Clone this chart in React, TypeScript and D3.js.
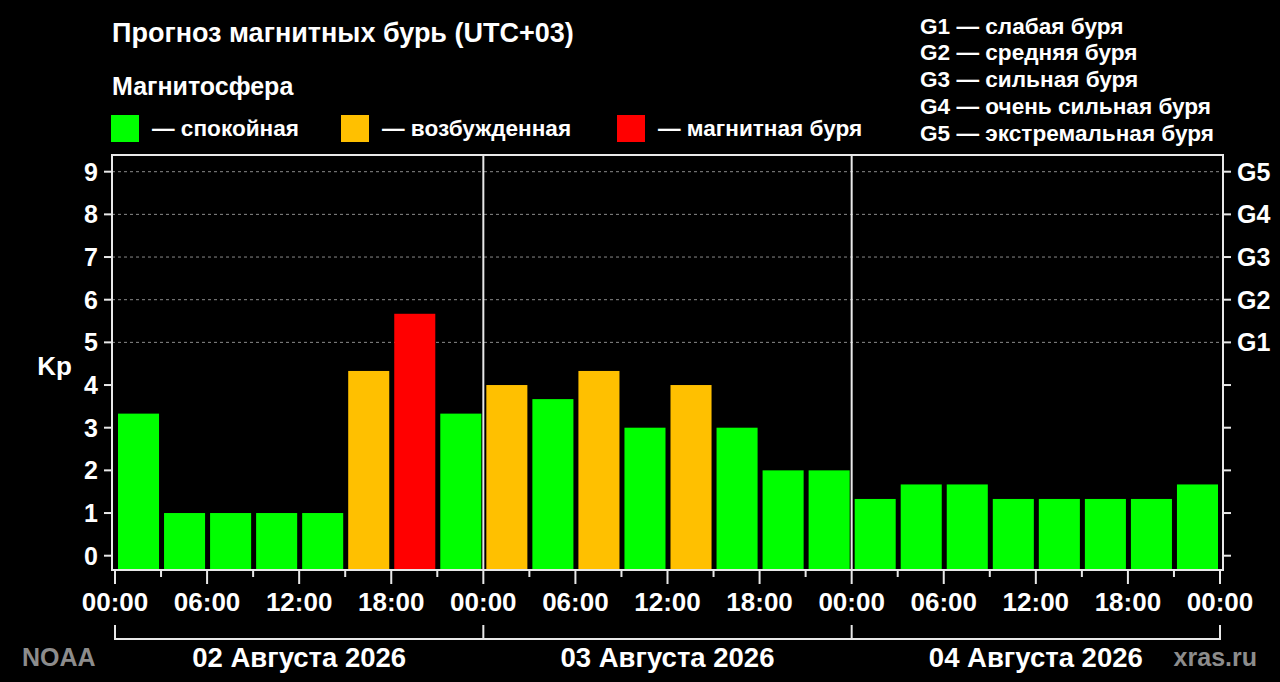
import React from "react";
import * as d3 from "d3";

const days = ["02 Августа 2026", "03 Августа 2026", "04 Августа 2026"];
const kpValues = [
  3.33, 1, 1, 1, 1, 4.33, 5.67, 3.33,
  4, 3.67, 4.33, 3, 4, 3, 2, 2,
  1.33, 1.67, 1.67, 1.33, 1.33, 1.33, 1.33, 1.67,
];
const yTicks = [0, 1, 2, 3, 4, 5, 6, 7, 8, 9];
const gridTicks = [5, 6, 7, 8, 9];
const gLabels = ["G1", "G2", "G3", "G4", "G5"];
const gLegend = [
  "G1 — слабая буря",
  "G2 — средняя буря",
  "G3 — сильная буря",
  "G4 — очень сильная буря",
  "G5 — экстремальная буря",
];
const legendItems = [
  { label: "— спокойная", color: "#00ff00" },
  { label: "— возбужденная", color: "#ffc000" },
  { label: "— магнитная буря", color: "#ff0000" },
];
const hoursPerBar = 3;

const FONT = "'Liberation Sans', Arial, sans-serif";

export default function App() {
  const W = 1280,
    H = 682;
  const frameL = 112,
    frameR = 1223,
    frameT = 155,
    frameB = 570;
  const x = d3.scaleLinear().domain([0, 72]).range([115, 1220]);
  const y = d3.scaleLinear().domain([0, 9]).range([555.7, 171.7]);
  const color = (v: number) => (v >= 5 ? "#ff0000" : v >= 4 ? "#ffc000" : "#00ff00");
  const slot = x(hoursPerBar) - x(0);
  const hourTicks = d3.range(0, 73, 3);
  const hourLabels = d3.range(0, 73, 6);
  const daySeps = d3.range(0, 73, 24);
  const legendX = [111, 341, 617];

  React.useEffect(() => {
    document.body.style.background = "#000";
    document.body.style.margin = "0";
  }, []);

  return (
    <svg
      width={W}
      height={H}
      style={{ position: "fixed", left: 0, top: 0, background: "#000", fontFamily: FONT }}
    >
      <rect width={W} height={H} fill="#000" />
      {/* Title */}
      <text x={112} y={33} fill="#fff" fontSize={27} fontWeight="bold" dominantBaseline="central">
        Прогноз магнитных бурь (UTC+03)
      </text>
      <text x={112} y={86} fill="#fff" fontSize={25} fontWeight="bold" dominantBaseline="central">
        Магнитосфера
      </text>
      {legendItems.map((it, i) => (
        <g key={i}>
          <rect x={legendX[i]} y={115} width={28} height={27} fill={it.color} />
          <text
            x={legendX[i] + 41}
            y={128}
            fill="#fff"
            fontSize={22.6}
            fontWeight="bold"
            dominantBaseline="central"
          >
            {it.label}
          </text>
        </g>
      ))}
      {gLegend.map((t, i) => (
        <text
          key={t}
          x={920}
          y={26 + i * 26.8}
          fill="#fff"
          fontSize={22.6}
          fontWeight="bold"
          dominantBaseline="central"
        >
          {t}
        </text>
      ))}

      {/* grid */}
      {gridTicks.map((t) => (
        <line
          key={t}
          x1={frameL}
          x2={frameR}
          y1={y(t)}
          y2={y(t)}
          stroke="#8a8a8a"
          strokeWidth={1}
          strokeDasharray="3,3"
        />
      ))}

      {/* bars */}
      {kpValues.map((v, i) => (
        <rect
          key={i}
          x={x(i * hoursPerBar) + 3}
          width={slot - 5}
          y={y(v)}
          height={frameB - y(v)}
          fill={color(v)}
        />
      ))}

      {/* frame */}
      <rect
        x={frameL}
        y={frameT}
        width={frameR - frameL}
        height={frameB - frameT}
        fill="none"
        stroke="#e8e8e8"
        strokeWidth={2}
      />
      {daySeps.slice(1, 3).map((h) => (
        <line key={h} x1={x(h)} x2={x(h)} y1={frameT} y2={frameB} stroke="#e8e8e8" strokeWidth={2} />
      ))}

      {/* y axes */}
      {yTicks.map((t) => (
        <g key={t}>
          <line x1={frameL - 8} x2={frameL} y1={y(t)} y2={y(t)} stroke="#e8e8e8" strokeWidth={2} />
          <line x1={frameR} x2={frameR + 8} y1={y(t)} y2={y(t)} stroke="#e8e8e8" strokeWidth={2} />
          <text
            x={98}
            y={y(t)}
            fill="#fff"
            fontSize={25}
            fontWeight="bold"
            textAnchor="end"
            dominantBaseline="central"
          >
            {t}
          </text>
        </g>
      ))}
      {gLabels.map((g, i) => (
        <text
          key={g}
          x={1237}
          y={y(5 + i)}
          fill="#fff"
          fontSize={25}
          fontWeight="bold"
          dominantBaseline="central"
        >
          {g}
        </text>
      ))}
      <text x={54.5} y={366} fill="#fff" fontSize={26} fontWeight="bold" textAnchor="middle" dominantBaseline="central">
        Kp
      </text>

      {/* x axis */}
      {hourTicks.map((h) => (
        <line
          key={h}
          x1={x(h)}
          x2={x(h)}
          y1={frameB}
          y2={h % 6 === 0 ? 584 : 577}
          stroke="#e8e8e8"
          strokeWidth={2}
        />
      ))}
      {hourLabels.map((h) => (
        <text
          key={h}
          x={x(h)}
          y={602}
          fill="#fff"
          fontSize={26}
          fontWeight="bold"
          textAnchor="middle"
          dominantBaseline="central"
        >
          {d3.format("02")(h % 24) + ":00"}
        </text>
      ))}

      {/* day brackets */}
      <line x1={x(0)} x2={x(72)} y1={639} y2={639} stroke="#e8e8e8" strokeWidth={2} />
      {daySeps.map((h) => (
        <line key={h} x1={x(h)} x2={x(h)} y1={625} y2={640} stroke="#e8e8e8" strokeWidth={2} />
      ))}
      {days.map((d, i) => (
        <text
          key={d}
          x={(x(i * 24) + x((i + 1) * 24)) / 2}
          y={657}
          fill="#fff"
          fontSize={27.5}
          fontWeight="bold"
          textAnchor="middle"
          dominantBaseline="central"
        >
          {d}
        </text>
      ))}
      <text x={22} y={657} fill="#8c8c8c" fontSize={25} fontWeight="bold" dominantBaseline="central">
        NOAA
      </text>
      <text x={1257} y={657} fill="#8c8c8c" fontSize={25} fontWeight="bold" textAnchor="end" dominantBaseline="central">
        xras.ru
      </text>
    </svg>
  );
}
